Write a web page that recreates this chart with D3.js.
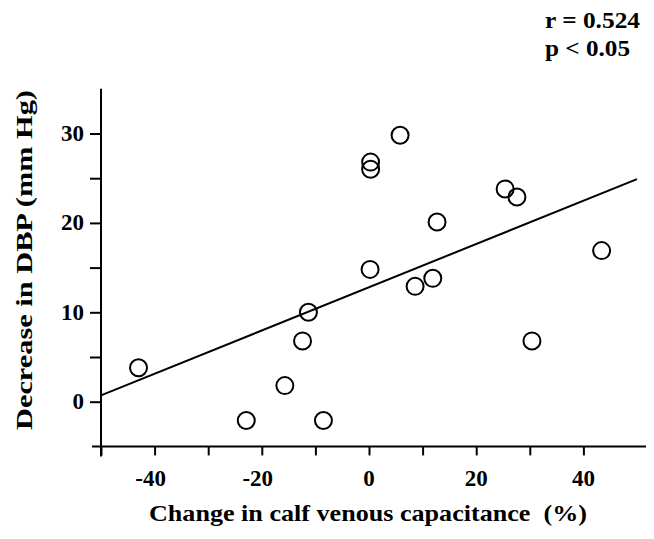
<!DOCTYPE html>
<html>
<head>
<meta charset="utf-8">
<script src="https://cdn.jsdelivr.net/npm/d3@7"></script>
<style>
  body { margin: 0; background: #fff; }
  text { font-family: "Liberation Serif", "Times New Roman", serif; font-weight: bold; fill: #000; }
</style>
</head>
<body>
<div id="chart"></div>
<script>
// data
const capChange = [-43, -22.9, -15.7, -12.4, -11.3, -8.5, 0.2, 0.3, 0.3, 5.8, 8.6, 11.9, 12.7, 25.4, 27.6, 30.4, 43.4];
const dbpDecrease = [3.8, -2.1, 1.8, 6.8, 10, -2.1, 14.8, 26.0, 26.8, 29.8, 12.9, 13.8, 20.1, 23.8, 22.9, 6.8, 16.9];
// regression line end points
const fitX = [-50, 50];
const fitY = [0.7, 24.9];
const xTicks = [-50, -40, -30, -20, -10, 0, 10, 20, 30, 40];
const xLabels = [-40, -20, 0, 20, 40];
const yTicks = [0, 5, 10, 15, 20, 25, 30];
const yLabels = [0, 10, 20, 30];

const W = 654, H = 539;
const svg = d3.select("#chart").append("svg")
  .attr("width", W).attr("height", H);

const x = d3.scaleLinear().domain([-50, 50]).range([101, 637]);
const y = d3.scaleLinear().domain([-5, 35]).range([446.4, 88.8]);

// axis lines (they cross a bit past each other)
svg.append("line")
  .attr("x1", x(-50) - 9).attr("x2", x(50) + 9)
  .attr("y1", y(-5)).attr("y2", y(-5))
  .attr("stroke", "#000").attr("stroke-width", 2);
svg.append("line")
  .attr("x1", x(-50)).attr("x2", x(-50))
  .attr("y1", y(35)).attr("y2", y(-5) + 10)
  .attr("stroke", "#000").attr("stroke-width", 2);

// x ticks
const xAxis = svg.append("g")
  .attr("transform", `translate(0,${y(-5)})`)
  .call(d3.axisBottom(x).tickValues(xTicks).tickSize(9).tickFormat(""));
xAxis.select(".domain").remove();
xAxis.selectAll("line").attr("stroke-width", 2);

svg.selectAll(".xlab")
  .data(xLabels)
  .join("text")
  .attr("class", "xlab")
  .attr("x", d => x(d) - (d < 0 ? 4 : 0))
  .attr("y", 486)
  .attr("text-anchor", "middle")
  .style("font-size", "23px")
  .text(d => d);

// y ticks
const yAxis = svg.append("g")
  .attr("transform", `translate(${x(-50)},0)`)
  .call(d3.axisLeft(y).tickValues(yTicks).tickSize(11).tickFormat(""));
yAxis.select(".domain").remove();
yAxis.selectAll("line").attr("stroke-width", 2);

svg.selectAll(".ylab")
  .data(yLabels)
  .join("text")
  .attr("class", "ylab")
  .attr("x", 84)
  .attr("y", d => y(d) + 7.5)
  .attr("text-anchor", "end")
  .style("font-size", "23px")
  .text(d => d);

// regression line
svg.append("line")
  .attr("x1", x(fitX[0])).attr("y1", y(fitY[0]))
  .attr("x2", x(fitX[1])).attr("y2", y(fitY[1]))
  .attr("stroke", "#000").attr("stroke-width", 2);

// points
svg.selectAll(".pt")
  .data(capChange)
  .join("circle")
  .attr("class", "pt")
  .attr("cx", d => x(d))
  .attr("cy", (d, i) => y(dbpDecrease[i]))
  .attr("r", 8.5)
  .attr("fill", "none")
  .attr("stroke", "#000")
  .attr("stroke-width", 2);

// axis titles
svg.append("text")
  .attr("x", 149).attr("y", 521)
  .attr("textLength", 438)
  .attr("lengthAdjust", "spacingAndGlyphs")
  .style("font-size", "23px")
  .text("Change in calf venous capacitance\u00a0\u00a0(%)");

svg.append("text")
  .attr("transform", "translate(32,430) rotate(-90)")
  .attr("textLength", 340)
  .attr("lengthAdjust", "spacingAndGlyphs")
  .style("font-size", "23px")
  .text("Decrease in DBP (mm Hg)");

// stats
svg.append("text")
  .attr("x", 545).attr("y", 28)
  .attr("textLength", 95)
  .attr("lengthAdjust", "spacingAndGlyphs")
  .style("font-size", "23px")
  .text("r = 0.524");
svg.append("text")
  .attr("x", 545).attr("y", 56)
  .attr("textLength", 85)
  .attr("lengthAdjust", "spacingAndGlyphs")
  .style("font-size", "23px")
  .text("p < 0.05");
</script>
</body>
</html>
